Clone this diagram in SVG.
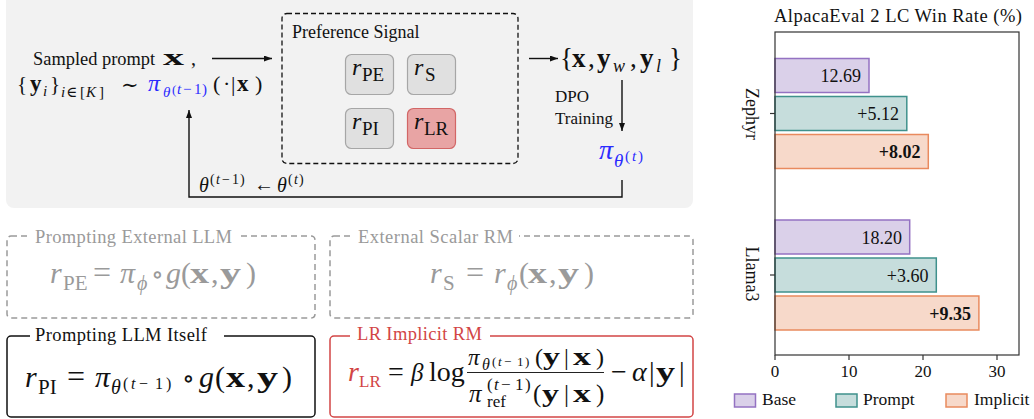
<svg xmlns="http://www.w3.org/2000/svg" width="1034" height="419" viewBox="0 0 1034 419">
<style>
text{font-family:"Liberation Serif","DejaVu Serif",serif;fill:#111}
.i{font-style:italic}
.b{font-weight:bold}
.blue{fill:#2b2bff}
.gray{fill:#9a9a9a}
.red{fill:#d24545}
.sym{font-family:"DejaVu Serif","Liberation Serif",serif}
.gbox{fill:#e0e0e0;stroke:#a6a6a6;stroke-width:1.2}
.ln{stroke:#111;stroke-width:1.4;fill:none}
.bar-base{fill:#dad0e9;stroke:#9472c2;stroke-width:1.5}
.bar-prompt{fill:#c6dddc;stroke:#3f918c;stroke-width:1.5}
.bar-impl{fill:#f7d9ca;stroke:#e98a5e;stroke-width:1.5}
.axis{stroke:#333;stroke-width:1.2;fill:none}
</style>
<defs>
<marker id="ah" markerWidth="8" markerHeight="6" refX="8" refY="3" orient="auto" markerUnits="userSpaceOnUse">
<path d="M0,0 L8,3 L0,6 z" fill="#111"/>
</marker>
</defs>

<!-- background panel -->
<rect x="6" y="-10" width="687" height="218" rx="8" fill="#f2f2f2"/>

<!-- sampled prompt node -->
<g id="sampled">
<text x="33" y="65" font-size="18.4">Sampled prompt</text>
<text x="163" y="65" font-size="24" class="b" textLength="21" lengthAdjust="spacingAndGlyphs">x</text>
<text x="191" y="65" font-size="20">,</text>
<text font-size="21" y="91">
<tspan x="17">{</tspan><tspan x="30" class="b" font-size="23">y</tspan><tspan x="43" y="96" class="i" font-size="15">i</tspan><tspan x="50" y="91">}</tspan>
</text>
<text y="97" font-size="15"><tspan x="61" class="i">i</tspan><tspan x="66" class="sym">∈</tspan><tspan x="80">[</tspan><tspan x="86" class="i">K</tspan><tspan x="99">]</tspan></text>
<text x="121" y="92" font-size="21" class="sym">∼</text>
<text x="148" y="91" font-size="24" class="i blue">π</text>
<text y="97" font-size="15"><tspan x="163" class="i blue">θ</tspan><tspan x="172" y="94" font-size="13" class="blue">(</tspan><tspan x="177" class="i blue">t</tspan><tspan x="183" class="blue">−</tspan><tspan x="194" class="blue">1</tspan><tspan x="202" class="blue">)</tspan></text>
<text font-size="22" y="91"><tspan x="213">(</tspan><tspan x="223">·</tspan><tspan x="231">|</tspan><tspan x="237" class="b" font-size="23">x</tspan><tspan x="255">)</tspan></text>
</g>

<!-- preference signal node -->
<g id="pref">
<rect x="282" y="13.5" width="236" height="150" rx="5" fill="none" stroke="#111" stroke-width="1.3" stroke-dasharray="5 3"/>
<text x="292" y="38" font-size="18">Preference Signal</text>
</g>
<g id="rPE">
<rect class="gbox" x="345.5" y="54.5" width="48" height="40" rx="6"/>
<text y="75"><tspan x="352" class="i" font-size="24">r</tspan><tspan x="362" y="81" font-size="19">PE</tspan></text>
</g>
<g id="rS">
<rect class="gbox" x="407.5" y="54.5" width="48" height="40" rx="6"/>
<text y="75"><tspan x="414" class="i" font-size="24">r</tspan><tspan x="425" y="81" font-size="19">S</tspan></text>
</g>
<g id="rPI">
<rect class="gbox" x="345.5" y="108.5" width="48" height="40" rx="6"/>
<text y="129"><tspan x="352" class="i" font-size="24">r</tspan><tspan x="362" y="135" font-size="19">PI</tspan></text>
</g>
<g id="rLR">
<rect x="407.5" y="108.5" width="48" height="40" rx="6" fill="#e8a4a4" stroke="#d26666" stroke-width="1.2"/>
<text y="129"><tspan x="414" class="i" font-size="24">r</tspan><tspan x="424" y="135" font-size="19">LR</tspan></text>
</g>

<!-- pairs node -->
<g id="pairs">
<text font-size="27" y="67"><tspan x="560">{</tspan><tspan x="572" class="b" font-size="27">x</tspan><tspan x="588">,</tspan><tspan x="597" class="b" font-size="27">y</tspan><tspan x="613" y="72" class="i" font-size="18">w</tspan><tspan x="630" y="67">,</tspan><tspan x="640" class="b" font-size="27">y</tspan><tspan x="656" y="72" class="i" font-size="18">l</tspan><tspan x="669" y="67">}</tspan></text>
</g>

<!-- updated policy node -->
<g id="policy">
<text x="599" y="159" font-size="28" class="i blue">π</text>
<text x="614" y="167" font-size="19" class="i blue">θ</text>
<text y="161" font-size="15"><tspan x="625" class="blue">(</tspan><tspan x="632" class="i blue">t</tspan><tspan x="638" class="blue">)</tspan></text>
</g>

<!-- connectors -->
<g id="connectors">
<line class="ln" x1="212" y1="58.5" x2="272" y2="58.5" marker-end="url(#ah)"/>
<line class="ln" x1="529" y1="58.5" x2="558" y2="58.5" marker-end="url(#ah)"/>
<line class="ln" x1="622" y1="80" x2="622" y2="131" marker-end="url(#ah)"/>
<polyline class="ln" points="622,180 622,197 189,197 189,110" marker-end="url(#ah)"/>
<text x="555" y="102" font-size="17">DPO</text>
<text x="555" y="124" font-size="17">Training</text>
<text x="199" y="192" font-size="20" class="i">θ</text>
<text y="184" font-size="14"><tspan x="210">(</tspan><tspan x="216" class="i">t</tspan><tspan x="222">−</tspan><tspan x="232">1</tspan><tspan x="240">)</tspan></text>
<text x="254" y="191" font-size="20">←</text>
<text x="277" y="192" font-size="20" class="i">θ</text>
<text y="184" font-size="14"><tspan x="288">(</tspan><tspan x="294" class="i">t</tspan><tspan x="299">)</tspan></text>
</g>

<!-- box: prompting external LLM -->
<g id="boxPE">
<rect x="7" y="236" width="308" height="82" rx="4" fill="none" stroke="#9a9a9a" stroke-width="1.5" stroke-dasharray="6 4"/>
<rect x="30" y="228" width="210" height="14" fill="#fff"/>
<text x="35" y="243" font-size="18.5" class="gray" textLength="197">Prompting External LLM</text>
<text y="283" class="gray" font-size="30"><tspan x="50" class="i gray">r</tspan><tspan x="63" y="290" font-size="21" class="gray">PE</tspan><tspan x="93" y="283" font-size="32" class="gray">=</tspan><tspan x="120" class="i gray">π</tspan><tspan x="137" y="290" font-size="20" class="i gray">ϕ</tspan><tspan x="151" y="283" font-size="26" class="sym gray">∘</tspan><tspan x="166" y="283" class="i gray">g</tspan><tspan x="181" class="gray">(</tspan><tspan x="211" class="gray">,</tspan><tspan x="246" class="gray">)</tspan></text>
<text x="190" y="283" font-size="30" class="b gray" textLength="19" lengthAdjust="spacingAndGlyphs">x</text>
<text x="220" y="283" font-size="30" class="b gray" textLength="21" lengthAdjust="spacingAndGlyphs">y</text>
</g>

<!-- box: external scalar RM -->
<g id="boxS">
<rect x="330" y="236" width="363" height="82" rx="4" fill="none" stroke="#9a9a9a" stroke-width="1.5" stroke-dasharray="6 4"/>
<rect x="353" y="228" width="166" height="14" fill="#fff"/>
<text x="358" y="243" font-size="18.5" class="gray" textLength="155">External Scalar RM</text>
<text y="283" class="gray" font-size="30"><tspan x="430" class="i gray">r</tspan><tspan x="443" y="290" font-size="21" class="gray">S</tspan><tspan x="466" y="283" font-size="32" class="gray">=</tspan><tspan x="494" class="i gray">r</tspan><tspan x="507" y="290" font-size="20" class="i gray">ϕ</tspan><tspan x="519" y="283" class="gray">(</tspan><tspan x="549" class="gray">,</tspan><tspan x="584" class="gray">)</tspan></text>
<text x="528" y="283" font-size="30" class="b gray" textLength="19" lengthAdjust="spacingAndGlyphs">x</text>
<text x="558" y="283" font-size="30" class="b gray" textLength="21" lengthAdjust="spacingAndGlyphs">y</text>
</g>

<!-- box: prompting LLM itself -->
<g id="boxPI">
<rect x="7" y="336" width="308" height="81" rx="4" fill="none" stroke="#111" stroke-width="1.5"/>
<rect x="30" y="328" width="194" height="14" fill="#fff"/>
<text x="35" y="341" font-size="18.5" textLength="172">Prompting LLM Itself</text>
<text y="387" font-size="30"><tspan x="25" class="i">r</tspan><tspan x="38" y="394" font-size="21">PI</tspan><tspan x="67" y="387" font-size="32">=</tspan><tspan x="95" class="i">π</tspan><tspan x="111" y="394" font-size="20" class="i">θ</tspan></text>
<text y="389" font-size="16"><tspan x="123">(</tspan><tspan x="131" class="i">t</tspan><tspan x="139">−</tspan><tspan x="155">1</tspan><tspan x="166">)</tspan></text>
<text y="387" font-size="30"><tspan x="182" font-size="26" class="sym">∘</tspan><tspan x="199" class="i">g</tspan><tspan x="215">(</tspan><tspan x="247">,</tspan><tspan x="282">)</tspan></text>
<text x="226" y="387" font-size="30" class="b" textLength="19" lengthAdjust="spacingAndGlyphs">x</text>
<text x="257" y="387" font-size="30" class="b" textLength="21" lengthAdjust="spacingAndGlyphs">y</text>
</g>

<!-- box: LR implicit RM -->
<g id="boxLR">
<rect x="330" y="336" width="363" height="81" rx="4" fill="none" stroke="#d24545" stroke-width="1.5"/>
<rect x="350" y="328" width="140" height="14" fill="#fff"/>
<text x="357" y="340" font-size="18.5" class="red" textLength="125">LR Implicit RM</text>
<text y="381" font-size="28"><tspan x="348" class="i red">r</tspan><tspan x="359" y="387" font-size="17" class="red">LR</tspan><tspan x="388" y="381" font-size="28">=</tspan><tspan x="411" class="i" font-size="25">β</tspan><tspan x="429">log</tspan></text>
<line x1="467" y1="372.5" x2="604" y2="372.5" stroke="#222" stroke-width="1.2"/>
<text y="365" font-size="23"><tspan x="468" class="i">π</tspan><tspan x="482" y="370" font-size="16" class="i">θ</tspan></text>
<text y="366" font-size="13"><tspan x="492">(</tspan><tspan x="498" class="i">t</tspan><tspan x="504">−</tspan><tspan x="517">1</tspan><tspan x="525">)</tspan></text>
<text y="365" font-size="24"><tspan x="535">(</tspan><tspan x="564">|</tspan><tspan x="596">)</tspan></text>
<text x="543" y="365" font-size="26" class="b" textLength="17" lengthAdjust="spacingAndGlyphs">y</text>
<text x="573" y="365" font-size="26" class="b" textLength="18" lengthAdjust="spacingAndGlyphs">x</text>
<text y="402" font-size="25"><tspan x="469" class="i">π</tspan></text>
<text y="390" font-size="17"><tspan x="487">(</tspan><tspan x="494" class="i">t</tspan><tspan x="501">−</tspan><tspan x="515">1</tspan><tspan x="525">)</tspan></text>
<text x="487" y="407" font-size="17">ref</text>
<text y="402" font-size="25"><tspan x="533">(</tspan><tspan x="564">|</tspan><tspan x="596">)</tspan></text>
<text x="542" y="402" font-size="26" class="b" textLength="17" lengthAdjust="spacingAndGlyphs">y</text>
<text x="573" y="402" font-size="26" class="b" textLength="18" lengthAdjust="spacingAndGlyphs">x</text>
<text y="381" font-size="28"><tspan x="611">−</tspan><tspan x="632" class="i">α</tspan><tspan x="649">|</tspan><tspan x="679">|</tspan></text>
<text x="656" y="381" font-size="28" class="b" textLength="19" lengthAdjust="spacingAndGlyphs">y</text>
</g>

<!-- chart -->
<g id="chart">
<text x="898" y="22" font-size="18.5" text-anchor="middle" textLength="248">AlpacaEval 2 LC Win Rate (%)</text>
<g id="bars-base">
<rect class="bar-base" x="775" y="58.5" width="94" height="34"/>
<rect class="bar-base" x="775" y="220" width="134.7" height="34"/>
</g>
<g id="bars-prompt">
<rect class="bar-prompt" x="775" y="96.5" width="131.8" height="34"/>
<rect class="bar-prompt" x="775" y="258" width="161.3" height="34"/>
</g>
<g id="bars-implicit">
<rect class="bar-impl" x="775" y="134.5" width="153.3" height="34"/>
<rect class="bar-impl" x="775" y="296" width="203.9" height="34"/>
</g>
<rect class="axis" x="775" y="32" width="244" height="323"/>
<g class="axis">
<line x1="770" y1="113.5" x2="775" y2="113.5"/>
<line x1="770" y1="275" x2="775" y2="275"/>
<line x1="775" y1="355" x2="775" y2="360"/>
<line x1="849" y1="355" x2="849" y2="360"/>
<line x1="923" y1="355" x2="923" y2="360"/>
<line x1="997" y1="355" x2="997" y2="360"/>
</g>
<g font-size="18" text-anchor="end">
<text x="861" y="82">12.69</text>
<text x="899" y="120">+5.12</text>
<text x="920.5" y="158" class="b">+8.02</text>
<text x="902" y="243.5">18.20</text>
<text x="928.5" y="281.5">+3.60</text>
<text x="971" y="319.5" class="b">+9.35</text>
</g>
<g font-size="17" text-anchor="middle">
<text x="775" y="377">0</text>
<text x="849" y="377">10</text>
<text x="923" y="377">20</text>
<text x="997" y="377">30</text>
</g>
<text transform="translate(746,114) rotate(90)" font-size="18" text-anchor="middle">Zephyr</text>
<text transform="translate(746,274) rotate(90)" font-size="18" text-anchor="middle">Llama3</text>
<g id="legend" font-size="17.5">
<rect class="bar-base" x="734.5" y="394" width="21" height="13"/>
<text x="762" y="405">Base</text>
<rect class="bar-prompt" x="836" y="394" width="21" height="13"/>
<text x="863" y="405">Prompt</text>
<rect class="bar-impl" x="946" y="394" width="21" height="13"/>
<text x="974" y="405">Implicit</text>
</g>
</g>
</svg>
